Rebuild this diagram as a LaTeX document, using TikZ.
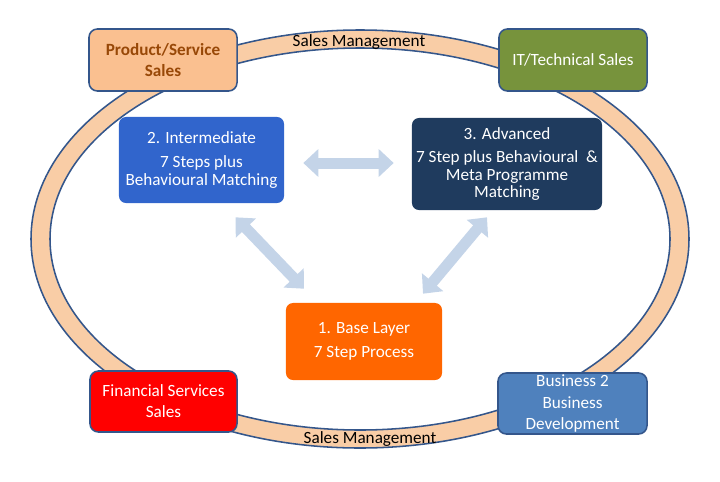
\documentclass[tikz,border=0pt]{standalone}
\usepackage{fontspec}
\setmainfont{Carlito}
\usetikzlibrary{%
  arrows.meta,%
  calc,%
  positioning%
}
\definecolor{ringfill}{HTML}{F9CDA6}
\definecolor{ringline}{HTML}{34568B}
\definecolor{prodfill}{HTML}{FAC090}
\definecolor{prodtext}{HTML}{984807}
\definecolor{itfill}{HTML}{77933C}
\definecolor{finfill}{HTML}{FF0000}
\definecolor{bizfill}{HTML}{4F81BD}
\definecolor{interfill}{HTML}{3165CC}
\definecolor{advfill}{HTML}{1F3B5E}
\definecolor{basefill}{HTML}{FF6600}
\definecolor{arrowfill}{HTML}{C4D4E8}
\tikzset{>=latex,%
  txt/.style={font=\fontsize{12.2}{15}\selectfont,align=center,inner sep=0pt},
  salesbox/.style={txt,draw=ringline,line width=1.1pt,rounded corners=6pt,
    minimum width=3.7cm,minimum height=1.55cm,text=white},
  layerbox/.style={txt,rounded corners=5pt,text=white},
  biarrow/.style={draw=arrowfill,line width=0.275cm,
    {Triangle[width=0.675cm,length=0.375cm]}-{Triangle[width=0.675cm,length=0.375cm]}}}

\begin{document}
\begin{tikzpicture}[x=0.025cm,y=-0.025cm]
    \useasboundingbox (0,0) rectangle (720,481);
    % ring
    \fill[ringfill,even odd rule] (360,239) ellipse [x radius=329,y radius=209]
      (360,239) ellipse [x radius=310,y radius=191];
    \draw[ringline,line width=1.1pt] (360,239) ellipse [x radius=329,y radius=209];
    \draw[ringline,line width=1.1pt] (360,239) ellipse [x radius=310,y radius=191];
    \node[txt] (mgmttop) at (359,42) {Sales Management};
    \node[txt] (mgmtbot) at (370,439) {Sales Management};
    % outer boxes
    \node[salesbox,fill=prodfill,text=prodtext,font=\fontsize{12.2}{15}\selectfont\bfseries]
      (prod) at (163,60) {Product/Service\\Sales};
    \node[salesbox,fill=itfill] (it) at (573,60) {IT/Technical Sales};
    \node[salesbox,fill=finfill,minimum width=3.675cm,minimum height=1.525cm]
      (fin) at (163.5,401.5) {Financial Services\\Sales};
    \node[salesbox,fill=bizfill,minimum width=3.725cm,minimum height=1.525cm]
      (biz) at (572.5,403.5) {Business 2\\Business\\Development};
    % layers
    \node[layerbox,fill=interfill,minimum width=4.125cm,minimum height=2.15cm]
      (inter) at (201.5,160) {2. Intermediate\\[1.8pt]7 Steps plus\\[-2.6pt]Behavioural Matching};
    \node[layerbox,fill=advfill,minimum width=4.75cm,minimum height=2.3cm]
      (adv) at (507,164) {3. Advanced\\[1.5pt]7 Step plus Behavioural~~\&\\[-2.6pt]Meta Programme\\[-2.6pt]Matching};
    \node[layerbox,fill=basefill,minimum width=3.9cm,minimum height=1.925cm]
      (base) at (364,341.5) {1. Base Layer\\[2pt]7 Step Process};
    \draw[biarrow] ([shift={(19,3)}]inter.east) -- ([shift={(-18,-1)}]adv.west);
    \draw[biarrow] ([shift={(34,14)}]inter.south) -- ([shift={(-60,-14)}]base.north);
    \draw[biarrow] ([shift={(-20,7)}]adv.south) -- ([shift={(59,-9)}]base.north);
\end{tikzpicture}
\end{document}
